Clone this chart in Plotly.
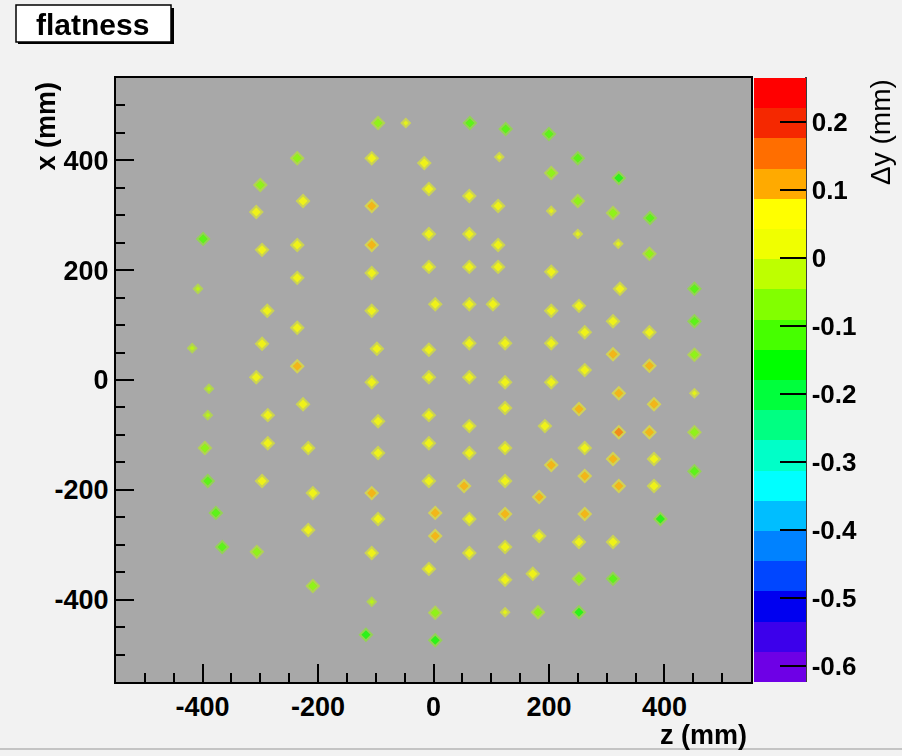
import numpy as np
import plotly.graph_objects as go

# Survey points on the plate: z and x positions (mm) and flatness deviation Δy (mm)
z_mm = [
    -399, -408, -418, -389, -391, -396, -391, -377, -366,
    -300, -307, -297, -288, -297, -307, -287, -287, -297, -306,
    -236, -226, -236, -236, -236, -236, -226, -217, -209, -217, -209,
    -96, -48, -107, -107, -107, -107, -107, -98, -107, -96, -96, -107, -96, -107, -107, -117,
    -16, -8, -8, -8, 3, -8, -8, -8, -8, -8, 3, 3, -8, 3, 3,
    63, 62, 62, 62, 62, 62, 62, 62, 62, 53, 62, 62,
    125, 114, 112, 112, 112, 103, 124, 124, 124, 124, 124, 124, 124, 124, 124,
    200, 204, 204, 204, 204, 204, 204, 193, 204, 183, 183, 172, 181,
    250, 250, 250, 252, 262, 262, 252, 262, 262, 262, 252, 252, 252,
    321, 311, 320, 323, 311, 311, 321, 321, 311, 321, 311, 311,
    375, 374, 374, 374, 382, 374, 382, 382, 393,
    452, 452, 452, 452, 452, 452,
]
x_mm = [
    257, 166, 58, -16, -64, -124, -184, -242, -304,
    355, 306, 237, 126, 66, 5, -64, -115, -184, -313,
    404, 326, 246, 186, 95, 25, -44, -124, -206, -273, -375,
    468, 468, 404, 317, 246, 195, 126, 57, -4, -75, -133, -206, -253, -315, -404, -464,
    395, 348, 266, 206, 138, 55, 5, -64, -115, -184, -242, -284, -344, -424, -474,
    468, 335, 266, 206, 138, 67, 5, -84, -133, -193, -253, -315,
    457, 406, 317, 246, 206, 138, 67, -4, -51, -124, -184, -244, -304, -364, -423,
    448, 377, 308, 197, 126, 67, -4, -84, -155, -213, -284, -353, -423,
    404, 326, 266, 135, 87, 18, -53, -124, -175, -244, -295, -362, -423,
    368, 304, 248, 166, 107, 47, -24, -95, -144, -193, -295, -362,
    295, 230, 87, 26, -44, -95, -144, -193, -253,
    166, 107, 46, -24, -95, -166,
]
dy_mm = [
    -0.10, -0.03, -0.03, -0.01, -0.01, -0.06, -0.10, -0.12, -0.12,
    -0.08, 0.05, 0.06, 0.05, 0.05, 0.06, 0.06, 0.05, 0.05, -0.06,
    -0.09, 0.05, 0.05, 0.05, 0.05, 0.09, 0.05, 0.05, 0.05, 0.05, -0.06,
    -0.06, 0.00, 0.05, 0.09, 0.09, 0.05, 0.05, 0.06, 0.05, 0.05, 0.05, 0.09, 0.05, 0.05, -0.01, -0.15,
    0.05, 0.05, 0.06, 0.05, 0.06, 0.05, 0.05, 0.05, 0.05, 0.05, 0.09, 0.10, 0.05, -0.05, -0.15,
    -0.10, 0.05, 0.05, 0.05, 0.05, 0.05, 0.05, 0.06, 0.05, 0.10, 0.05, 0.05,
    -0.10, 0.00, 0.05, 0.05, 0.05, 0.05, 0.05, 0.05, 0.05, 0.05, 0.05, 0.09, 0.05, 0.05, 0.00,
    -0.12, -0.06, 0.00, 0.05, 0.05, 0.05, 0.05, 0.07, 0.09, 0.09, 0.05, 0.05, -0.05,
    -0.12, -0.06, 0.00, 0.05, 0.06, 0.05, 0.09, 0.05, 0.10, 0.09, 0.05, -0.05, -0.14,
    -0.14, -0.06, 0.00, 0.05, 0.05, 0.09, 0.09, 0.135, 0.09, 0.10, 0.06, -0.12,
    -0.12, -0.05, 0.05, 0.09, 0.10, 0.09, 0.06, 0.05, -0.14,
    -0.12, -0.10, -0.05, 0.00, -0.05, -0.12,
]

# Axis ticks
axis_ticks = [-400, -200, 0, 200, 400]
axis_ticktext = ["-400", "-200", "0", "200", "400"]
cbar_ticks = [-0.6, -0.5, -0.4, -0.3, -0.2, -0.1, 0.0, 0.1, 0.2]
cbar_ticktext = ["-0.6", "-0.5", "-0.4", "-0.3", "-0.2", "-0.1", "0", "0.1", "0.2"]

# Colour contours: 20 levels, violet -> red
zmin, zmax = -0.623, 0.265
band_colors = [
    "rgb(110,0,230)", "rgb(60,0,235)", "rgb(0,0,240)", "rgb(0,70,255)",
    "rgb(0,130,255)", "rgb(0,190,255)", "rgb(0,255,255)", "rgb(0,255,200)",
    "rgb(0,255,130)", "rgb(0,255,60)", "rgb(0,255,0)", "rgb(70,255,0)",
    "rgb(130,255,0)", "rgb(190,255,0)", "rgb(240,255,0)", "rgb(255,255,0)",
    "rgb(255,170,0)", "rgb(255,110,0)", "rgb(245,40,0)", "rgb(255,0,0)",
]
n_levels = len(band_colors)
edges = np.linspace(zmin, zmax, n_levels + 1)


def band_index(v):
    return int(np.clip(np.searchsorted(edges, v, side="right") - 1, 0, n_levels - 1))


def stepped_scale():
    scale = []
    for i, c in enumerate(band_colors):
        scale += [[i / n_levels, c], [(i + 1) / n_levels, c]]
    return scale


def halo_scale():
    # softer rim around each point: colour of half the point's deviation
    span = zmax - zmin
    cuts = sorted(t for t in ((2 * e - zmin) / span for e in edges[1:-1]) if 0 < t < 1)
    pts = [0.0] + cuts + [1.0]
    scale = []
    for a, b in zip(pts[:-1], pts[1:]):
        mid = zmin + (a + b) / 2 * span
        c = band_colors[band_index(mid / 2)]
        scale += [[a, c], [b, c]]
    return scale


dy = np.array(dy_mm)
core_size = np.where(np.abs(dy) < 0.035, 4, 7)
halo_size = core_size + 4.5

# Plot area in pixels (figure 902 x 756)
W, H = 902, 756
L, R, T, B = 116, 751, 78, 682


def X(px):
    return (px - L) / (R - L)


def Y(py):
    return (B - py) / (B - T)


fig = go.Figure()
fig.add_trace(go.Scatter(
    x=z_mm, y=x_mm, mode="markers", hoverinfo="skip", showlegend=False,
    opacity=0.7,
    marker=dict(symbol="diamond", size=halo_size, color=dy_mm, cmin=zmin, cmax=zmax,
                colorscale=halo_scale(), showscale=False, line=dict(width=0)),
))
fig.add_trace(go.Scatter(
    x=z_mm, y=x_mm, mode="markers", showlegend=False,
    marker=dict(
        symbol="diamond", size=core_size, color=dy_mm, cmin=zmin, cmax=zmax,
        colorscale=stepped_scale(), showscale=True, line=dict(width=0),
        colorbar=dict(
            x=X(754), xanchor="left", y=0.5, yanchor="middle",
            len=1, lenmode="fraction", thickness=52, thicknessmode="pixels",
            xpad=0, ypad=0, outlinewidth=0,
            tickmode="array", tickvals=cbar_ticks, ticktext=cbar_ticktext,
            ticks="inside", ticklen=26, tickwidth=1.5, tickcolor="black",
            tickfont=dict(family="Liberation Sans", size=26, color="black", weight="bold"),
        ),
    ),
))

tickfont = dict(family="Liberation Sans", size=27, color="black", weight="bold")
common_axis = dict(
    range=[-550, 550], tickmode="array", tickvals=axis_ticks, ticktext=axis_ticktext,
    ticks="inside", ticklen=18, tickwidth=1.5, tickcolor="black",
    minor=dict(ticks="inside", ticklen=9, tickwidth=1.5, tickcolor="black",
               dtick=50, tick0=0, showgrid=False),
    showgrid=False, zeroline=False, showline=True, linecolor="black", linewidth=2,
    mirror=True, tickfont=tickfont,
)

fig.update_layout(
    width=W, height=H,
    margin=dict(l=L, r=W - R, t=T, b=H - B, pad=0),
    paper_bgcolor="#f2f2f2", plot_bgcolor="#a8a8a8",
    xaxis=common_axis, yaxis=common_axis,
    shapes=[
        # title box with shadow
        dict(type="rect", xref="paper", yref="paper", x0=X(18), x1=X(174), y0=Y(44), y1=Y(8),
             fillcolor="black", line=dict(width=0), layer="above"),
        dict(type="rect", xref="paper", yref="paper", x0=X(16), x1=X(171), y0=Y(42), y1=Y(5),
             fillcolor="white", line=dict(color="black", width=1.5), layer="above"),
        # colour axis line
        dict(type="line", xref="paper", yref="paper", x0=X(806), x1=X(806), y0=Y(682), y1=Y(77),
             line=dict(color="black", width=1.5)),
        # canvas bottom edge
        dict(type="line", xref="paper", yref="paper", x0=X(0), x1=X(902), y0=Y(749), y1=Y(749),
             line=dict(color="#b4b4b4", width=1.5)),
    ],
    annotations=[
        dict(text="flatness", xref="paper", yref="paper", x=X(92), y=Y(24),
             xanchor="center", yanchor="middle", showarrow=False,
             font=dict(family="Liberation Sans", size=30, color="black", weight="bold")),
        dict(text="x (mm)", xref="paper", yref="paper", x=X(45), y=Y(80),
             xanchor="center", yanchor="top", textangle=-90, showarrow=False,
             font=dict(family="Liberation Sans", size=27, color="black", weight="bold")),
        dict(text="z (mm)", xref="paper", yref="paper", x=X(749), y=Y(735),
             xanchor="right", yanchor="middle", showarrow=False,
             font=dict(family="Liberation Sans", size=27, color="black", weight="bold")),
        dict(text="Δy (mm)", xref="paper", yref="paper", x=X(880), y=Y(77),
             xanchor="center", yanchor="top", textangle=-90, showarrow=False,
             font=dict(family="Liberation Sans", size=28, color="black")),
    ],
)

fig.write_html("out.html")
